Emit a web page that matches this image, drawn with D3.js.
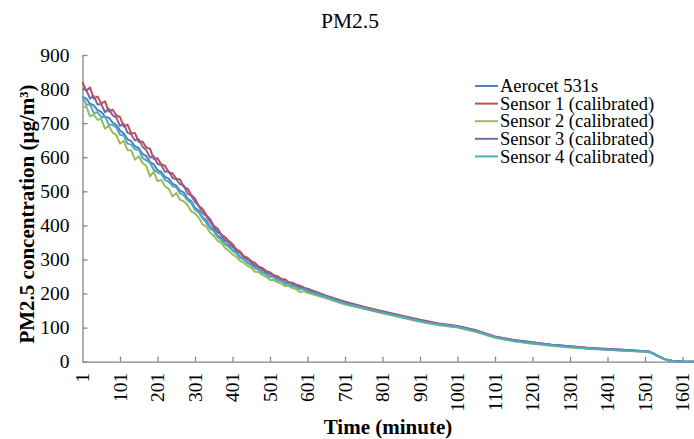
<!DOCTYPE html>
<html>
<head>
<meta charset="utf-8">
<script src="https://cdn.jsdelivr.net/npm/d3@7"></script>
<style>
  html, body { margin: 0; padding: 0; background: #fff; }
  text { font-family: "Liberation Serif", "Times New Roman", serif; fill: #000; }
</style>
</head>
<body>
<svg id="chart" width="694" height="439"></svg>
<script>
// sample times (minute): every 10 min early, every 50 mid, every 10 at the tail
var minutes = d3.range(1, 602, 10).concat(d3.range(651, 1502, 50)).concat(d3.range(1511, 1642, 10));

var seriesNames = ["Aerocet 531s", "Sensor 1 (calibrated)", "Sensor 2 (calibrated)", "Sensor 3 (calibrated)", "Sensor 4 (calibrated)"];
var seriesColors = ["#4F81BD", "#C0504D", "#9BBB59", "#8064A2", "#4BACC6"];

var aerocet = [778,772,757,752,738,733,719,716,702,695,678,670,653,647,632,627,610,603,586,579,562,557,542,537,522,517,502,497,479,471,452,443,424,415,396,387,370,363,347,342,327,322,307,303,290,287,275,273,261,260,249,249,239,239,229,230,221,222,213,214,205,
  189,171,157,144,132,119,109,102,89,72,62,55,49,44,39,36,33,30,
  29,25,19,14,9,5,3,1,1,0,0,0,0,0];
var sensor1 = [820,795,805,772,778,758,764,734,740,723,718,690,696,670,671,645,646,629,625,595,597,579,575,555,553,537,535,513,508,489,479,457,449,431,419,399,391,373,366,354,345,330,324,310,305,295,290,279,275,266,262,254,251,243,242,233,232,226,223,217,214,
  194,176,161,148,136,123,112,105,92,74,64,57,50,45,40,37,34,31,
  30,26,20,14,9,5,3,1,1,0,0,0,0,0];
var sensor2 = [745,750,720,725,710,712,684,692,673,665,640,648,621,620,593,603,583,575,544,557,530,533,515,507,485,495,475,471,460,441,435,423,403,397,379,370,355,349,334,326,315,308,296,291,281,275,264,263,254,249,240,240,233,229,222,222,216,213,204,207,202,
  186,168,155,142,130,117,107,100,87,70,60,53,47,42,38,35,32,29,
  28,24,18,13,8,4,2,1,0,0,0,0,0,0];
var sensor3 = [800,798,772,780,755,756,732,742,723,717,692,698,672,667,649,653,631,621,599,603,581,577,557,559,539,535,521,517,494,487,469,457,437,427,411,395,381,373,356,350,338,326,319,306,300,291,282,278,269,262,258,250,247,241,234,233,227,224,218,216,211,
  192,174,159,146,134,121,111,104,91,73,63,56,50,45,40,37,34,31,
  30,25,19,14,9,5,3,1,1,0,0,0,0,0];
var sensor4 = [778,755,755,730,732,718,719,696,695,687,666,664,640,637,623,623,598,591,583,563,556,551,533,528,515,512,494,489,474,465,446,438,421,408,392,383,367,357,345,337,326,318,305,300,290,283,274,270,261,256,249,247,240,236,229,228,222,219,214,212,207,
  189,171,157,144,132,119,109,102,89,72,61,54,48,43,39,35,32,30,
  29,25,19,14,9,5,3,1,0,0,0,0,0,0];

var seriesValues = [aerocet, sensor1, sensor2, sensor3, sensor4];

var xTicks = d3.range(1, 1602, 100);
var yTicks = d3.range(0, 901, 100);

var svg = d3.select("#chart");

const x = d3.scaleLinear().domain([1, 1641]).range([82.5, 697.5]);
const y = d3.scaleLinear().domain([0, 900]).range([361.7, 55]);

var axisColor = "#868686";

// y axis, ticks pointing into the plot
var yAxis = svg.append("g")
    .attr("transform", "translate(" + x(1) + ",0)")
    .call(d3.axisLeft(y).tickValues(yTicks).tickSizeInner(-5).tickSizeOuter(0).tickPadding(13));
yAxis.select(".domain").attr("stroke", axisColor).attr("stroke-width", 1.3);
yAxis.selectAll(".tick line").attr("stroke", axisColor).attr("stroke-width", 1.3);
yAxis.selectAll(".tick text")
    .style("font-family", '"Liberation Serif", "Times New Roman", serif')
    .style("font-size", "19.5px");

// x axis with rotated labels
var xAxis = svg.append("g")
    .attr("transform", "translate(0," + y(0) + ")")
    .call(d3.axisBottom(x).tickValues(xTicks).tickFormat(d3.format("d")).tickSizeInner(-5).tickSizeOuter(0));
xAxis.select(".domain").attr("stroke", axisColor).attr("stroke-width", 1.3);
xAxis.selectAll(".tick line")
    .attr("stroke", axisColor).attr("stroke-width", 1.3)
    .attr("opacity", function(d) { return d == 1 ? 0 : 1; });
xAxis.selectAll(".tick text")
    .style("font-family", '"Liberation Serif", "Times New Roman", serif')
    .style("font-size", "19.5px")
    .attr("transform", "rotate(-90)")
    .attr("text-anchor", "end")
    .attr("x", -11)
    .attr("y", 0)
    .attr("dy", "0.33em");

// series lines
const line = d3.line()
    .x(function(d, i) { return x(minutes[i]); })
    .y(function(d) { return y(d); });

seriesValues.forEach(function(vals, k) {
    svg.append("path")
        .attr("d", line(vals))
        .attr("fill", "none")
        .attr("stroke", seriesColors[k])
        .attr("stroke-width", 2)
        .attr("stroke-linejoin", "round");
});

// titles
svg.append("text")
    .attr("x", 350).attr("y", 28)
    .attr("text-anchor", "middle")
    .style("font-size", "21.5px")
    .text("PM2.5");

svg.append("text")
    .attr("x", 388).attr("y", 434)
    .attr("text-anchor", "middle")
    .style("font-size", "21px")
    .style("font-weight", "bold")
    .text("Time (minute)");

svg.append("text")
    .attr("transform", "translate(34,214) rotate(-90)")
    .attr("text-anchor", "middle")
    .style("font-size", "21px")
    .style("font-weight", "bold")
    .text("PM2.5 concentration (\u03bcg/m\u00b3)");

// legend
var legend = svg.append("g");
seriesNames.forEach(function(name, k) {
    var ly = 86 + k * 17.6;
    legend.append("line")
        .attr("x1", 475).attr("x2", 498)
        .attr("y1", ly).attr("y2", ly)
        .attr("stroke", seriesColors[k])
        .attr("stroke-width", 2);
    legend.append("text")
        .attr("x", 500).attr("y", ly)
        .attr("dy", "0.33em")
        .style("font-size", "18.5px")
        .text(name);
});
</script>
</body>
</html>
